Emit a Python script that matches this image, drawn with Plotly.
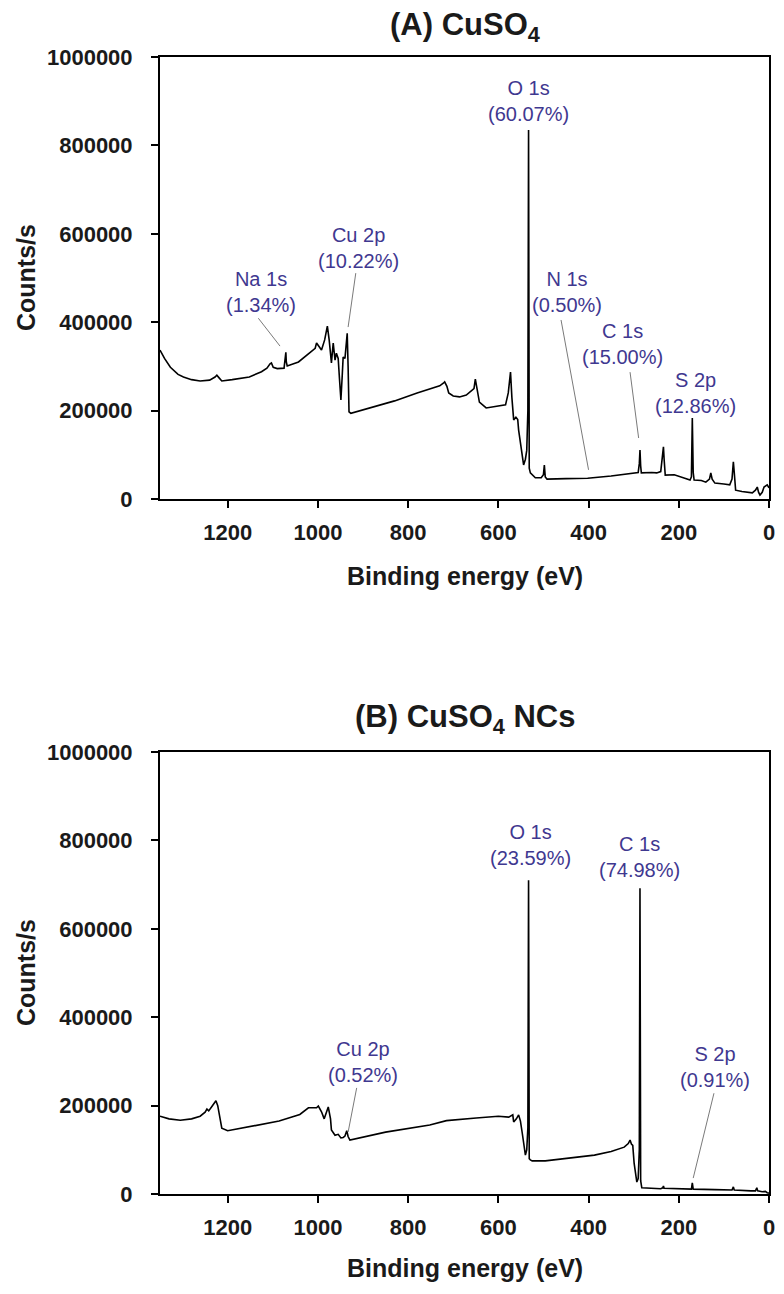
import plotly.graph_objects as go

# ---------------- data ----------------
# (A) CuSO4 survey spectrum: binding energy (eV) and counts/s
be_a = [1350, 1340, 1327, 1310, 1298, 1280, 1261, 1240, 1228, 1224, 1219, 1213, 1190, 1152, 1125,
        1113, 1106, 1103, 1099, 1090, 1075, 1072, 1071, 1070, 1068, 1043, 1020, 1006, 1003, 998,
        992, 985, 979, 975, 970, 966, 962, 959, 955, 952, 949, 946, 944, 940, 938, 935, 933, 931,
        927, 880, 830, 780, 730, 722, 719, 714, 710, 700, 686, 671, 660, 654, 651, 647, 642, 627,
        600, 584, 578, 573, 570, 566, 561, 557, 555, 550, 544, 540, 537, 534.5, 533, 531.5, 529,
        518, 505, 500, 498, 496, 492, 450, 402, 350, 300, 290, 287.5, 286, 284.5, 283, 260, 249,
        240, 235.5, 234, 232.5, 230, 210, 195, 175, 172, 170, 168, 166, 150, 140, 132, 129, 126,
        120, 100, 87, 82, 79, 77, 74, 60, 37, 30, 26, 23, 20, 15, 11, 4, 0]
cps_a = [337000, 318000, 298000, 282000, 276000, 270000, 267000, 269000, 276000, 280000, 274000,
         267000, 270000, 276000, 288000, 296000, 306000, 308000, 298000, 295000, 296000, 315000,
         332000, 310000, 301000, 310000, 328000, 341000, 353000, 345000, 337000, 360000, 391000,
         360000, 308000, 353000, 314000, 330000, 318000, 270000, 224000, 280000, 321000, 318000,
         340000, 375000, 300000, 197000, 194000, 208000, 222000, 240000, 256000, 262000, 265000,
         255000, 240000, 233000, 231000, 235000, 245000, 250000, 271000, 245000, 219000, 206000,
         210000, 213000, 240000, 287000, 230000, 179000, 185000, 180000, 156000, 120000, 77000,
         90000, 110000, 200000, 835000, 70000, 59000, 48000, 48000, 55000, 77000, 50000, 45000,
         46000, 47000, 52000, 58000, 60000, 80000, 111000, 75000, 59000, 60000, 59000, 62000,
         100000, 118000, 90000, 54000, 55000, 50000, 43000, 50000, 183000, 60000, 43000, 42000,
         38000, 45000, 59000, 45000, 36000, 34000, 32000, 45000, 84000, 60000, 20000, 17000,
         14000, 20000, 27000, 15000, 9000, 15000, 27000, 32000, 25000]

# (B) CuSO4 NCs survey spectrum
be_b = [1350, 1330, 1305, 1280, 1261, 1250, 1246, 1242, 1235, 1226, 1222, 1216, 1213, 1200, 1150,
        1086, 1040, 1021, 1003, 999, 992, 986, 977, 972, 970, 962, 955, 949, 944, 940, 936, 933,
        929, 880, 850, 752, 715, 649, 600, 577, 568, 566, 560, 555, 551, 547, 543, 540, 537, 534.5,
        533, 531.5, 529, 525, 496, 450, 387, 350, 321, 312, 308, 305, 302, 299, 295, 293, 290,
        287.5, 286, 284.5, 282, 260, 240, 235.5, 234, 232.5, 200, 172, 170, 168, 120, 82, 79, 77,
        40, 30, 27, 25, 15, 8, 4, 0]
cps_b = [176000, 170000, 167000, 170000, 176000, 185000, 192000, 188000, 198000, 211000, 200000,
         160000, 149000, 143000, 152000, 165000, 180000, 195000, 195000, 199000, 186000, 170000,
         197000, 170000, 145000, 133000, 135000, 127000, 128000, 131000, 143000, 130000, 122000,
         133000, 140000, 156000, 166000, 172000, 176000, 174000, 179000, 163000, 170000, 179000,
         165000, 138000, 105000, 88000, 100000, 150000, 710000, 80000, 77000, 75000, 75000,
         80000, 88000, 96000, 106000, 114000, 122000, 113000, 110000, 70000, 40000, 27000, 35000,
         100000, 692000, 30000, 14000, 13000, 12000, 14000, 18000, 13000, 12000, 11000, 25000,
         11000, 10000, 9000, 16000, 9000, 7000, 7000, 14000, 7000, 5000, 6000, 3000, 2000]

# peak labels: text, label centre (BE, counts), leader line start/end (BE, counts) or None
labels_a = ["Na 1s<br>(1.34%)", "Cu 2p<br>(10.22%)", "O 1s<br>(60.07%)",
            "N 1s<br>(0.50%)", "C 1s<br>(15.00%)", "S 2p<br>(12.86%)"]
label_be_a = [1126, 909, 533, 448, 324, 162]
label_cps_a = [468000, 568000, 900000, 468000, 351000, 240000]
lead_a = [(1132, 409000, 1084, 346000), (916, 511000, 933, 389000), None,
          (461, 405000, 400, 66000), (308, 287000, 289, 138000), None]

labels_b = ["Cu 2p<br>(0.52%)", "O 1s<br>(23.59%)", "C 1s<br>(74.98%)", "S 2p<br>(0.91%)"]
label_be_b = [901, 529, 286, 120]
label_cps_b = [299000, 789000, 762000, 287000]
lead_b = [(914, 240000, 933, 140000), None, None, (122, 228000, 168, 36000)]

titles = ["<b>(A) CuSO<sub>4</sub></b>", "<b>(B) CuSO<sub>4</sub> NCs</b>"]
x_ticks = [1200, 1000, 800, 600, 400, 200, 0]
y_ticks = [0, 200000, 400000, 600000, 800000, 1000000]

# ---------------- figure ----------------
# the page body has an 8px default margin on every side: keep the figure inside the window
OFF = 8
W, H = 784 - 2 * OFF, 1294 - 2 * OFF
ML, MR, MT = 160 - OFF, 7, 57 - OFF
MB = H - (1194 - OFF)
PW = W - ML - MR
PH = H - MT - MB
FONT = "Arial, Liberation Sans, sans-serif"
LABEL_COLOR = "#3f3890"


def py(pix):
    """window pixel row -> paper y"""
    return (H - MB - (pix - OFF)) / PH


def px(pix):
    """window pixel column -> paper x"""
    return (pix - OFF - ML) / PW


fig = go.Figure()
fig.add_trace(go.Scatter(x=be_a, y=cps_a, mode="lines", line=dict(color="black", width=1.6),
                         xaxis="x", yaxis="y", showlegend=False))
fig.add_trace(go.Scatter(x=be_b, y=cps_b, mode="lines", line=dict(color="black", width=1.6),
                         xaxis="x2", yaxis="y2", showlegend=False))

axis_common = dict(showline=True, linecolor="black", linewidth=2, mirror=True,
                   ticks="outside", ticklen=7, tickwidth=2, tickcolor="black",
                   showgrid=False, zeroline=False, automargin=False,
                   tickfont=dict(family=FONT, size=22, color="#1a1a1a", weight="bold"))

dom_a = [py(499), 1.0]
dom_b = [0.0, py(752)]

fig.update_layout(
    width=W, height=H, margin=dict(l=ML, r=MR, t=MT, b=MB),
    plot_bgcolor="white", paper_bgcolor="white",
    xaxis=dict(axis_common, range=[1350, 0], tickvals=x_ticks, anchor="y", ticklabelstandoff=6),
    yaxis=dict(axis_common, range=[0, 1000000], tickvals=y_ticks, tickformat="d",
               domain=dom_a, anchor="x", ticklabelstandoff=14),
    xaxis2=dict(axis_common, range=[1350, 0], tickvals=x_ticks, anchor="y2", ticklabelstandoff=6),
    yaxis2=dict(axis_common, range=[0, 1000000], tickvals=y_ticks, tickformat="d",
                domain=dom_b, anchor="x2", ticklabelstandoff=14),
)

anns = []
# panel titles
for t, ypix in zip(titles, [27, 719]):
    anns.append(dict(text=t, x=0.5, y=py(ypix), xref="paper", yref="paper", showarrow=False,
                     xanchor="center", yanchor="middle", borderpad=0,
                     font=dict(family=FONT, size=31, color="#1a1a1a")))
# axis titles
for ycen, xt_pix in [((57 + 499) / 2, 576), ((752 + 1194) / 2, 1268)]:
    anns.append(dict(text="<b>Counts/s</b>", x=px(26), y=py(ycen),
                     xref="paper", yref="paper", showarrow=False, textangle=-90,
                     xanchor="center", yanchor="middle",
                     font=dict(family=FONT, size=25, color="#1a1a1a")))
    anns.append(dict(text="<b>Binding energy (eV)</b>", x=0.5, y=py(xt_pix),
                     xref="paper", yref="paper", showarrow=False,
                     xanchor="center", yanchor="middle", borderpad=0,
                     font=dict(family=FONT, size=25, color="#1a1a1a")))
# peak labels
for labs, lbe, lcps, xr, yr in [(labels_a, label_be_a, label_cps_a, "x", "y"),
                                 (labels_b, label_be_b, label_cps_b, "x2", "y2")]:
    for t, bx, cy in zip(labs, lbe, lcps):
        anns.append(dict(text=t, x=bx, y=cy, xref=xr, yref=yr, showarrow=False,
                         xanchor="center", yanchor="middle",
                         font=dict(family=FONT, size=20, color=LABEL_COLOR)))
fig.update_layout(annotations=anns)

shapes = []
for leads, xr, yr in [(lead_a, "x", "y"), (lead_b, "x2", "y2")]:
    for ld in leads:
        if ld is None:
            continue
        x0, y0, x1, y1 = ld
        shapes.append(dict(type="line", x0=x0, y0=y0, x1=x1, y1=y1, xref=xr, yref=yr,
                           line=dict(color="#7a7a7a", width=1)))
fig.update_layout(shapes=shapes)

fig.write_html("out.html")
